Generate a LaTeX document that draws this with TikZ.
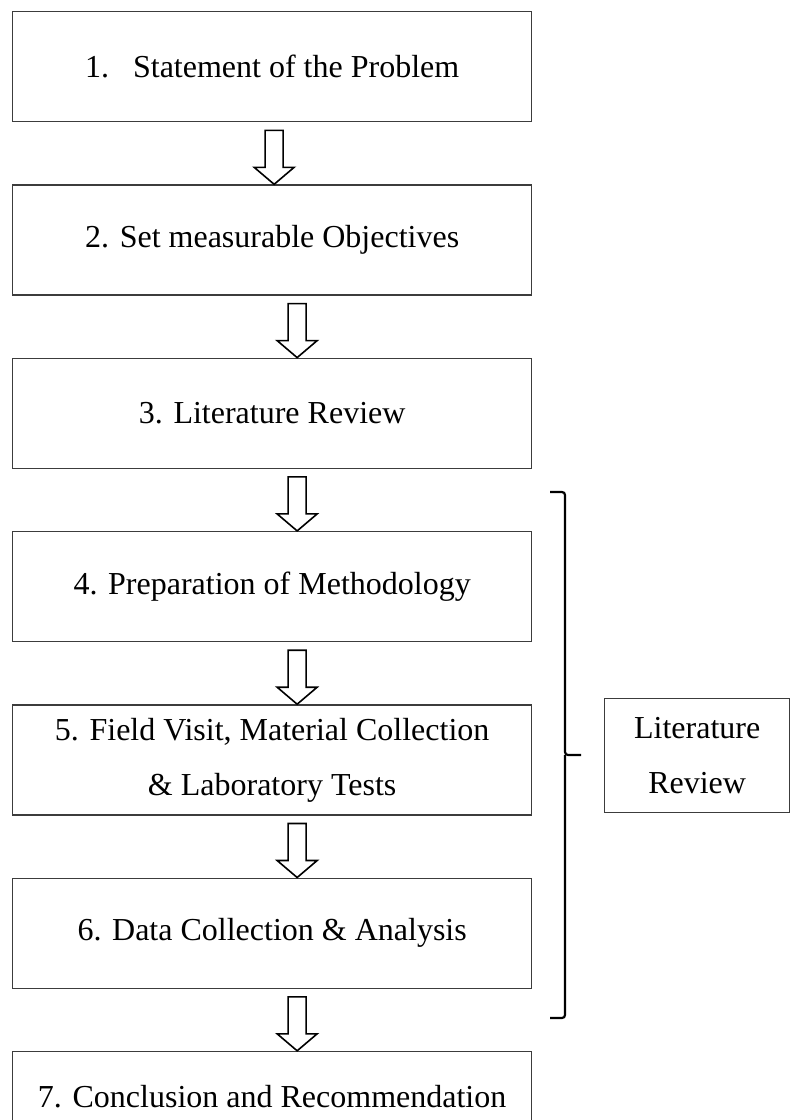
\documentclass[tikz,border=0pt]{standalone}
\usepackage{fontspec}
\setmainfont{Liberation Serif}
\usetikzlibrary{positioning,calc}
\definecolor{Edge}{HTML}{3C3C3C}

\begin{document}
\begin{tikzpicture}[
  x=1pt,y=1pt,
  node distance=62pt,
  every node/.style={font=\fontsize{32}{55}\selectfont,align=center},
  stage/.style={draw=Edge,line width=1.3pt,minimum width=519pt,minimum height=110pt,inner sep=0pt},
  note/.style={stage,minimum width=185pt,minimum height=114pt},
  hollow/.style={draw=black,line width=1.6pt,fill=white,line join=miter},
  bracket/.style={line width=2.2pt,rounded corners=3pt}
]
  \useasboundingbox (0,0) rectangle (791,-1120);
  \clip (0,0) rectangle (791,-1120);
  \node[stage,anchor=north west] (s1) at (12,-11) {1.\hspace{0.75em}Statement of the Problem};
  \node[stage,below=of s1] (s2) {2. Set measurable Objectives};
  \node[stage,below=of s2] (s3) {3. Literature Review};
  \node[stage,below=of s3] (s4) {4. Preparation of Methodology};
  \node[stage,below=of s4] (s5) {5. Field Visit, Material Collection\\\& Laboratory Tests};
  \node[stage,below=of s5] (s6) {6. Data Collection \& Analysis};
  \node[stage,below=of s6,minimum height=90pt] (s7) {7. Conclusion and Recommendation};
  \node[note,anchor=north west] (lit) at (604,-698) {Literature\\Review};
  % hollow block arrows between the stages
  \foreach \a/\b/\dx in {s1/s2/2,s2/s3/25,s3/s4/25,s4/s5/25,s5/s6/25,s6/s7/25}
    \draw[hollow] let \p1=(\a.south), \p2=(\b.north) in
      (\x1+\dx*1pt-9pt,\y1-8pt) -- (\x1+\dx*1pt+9pt,\y1-8pt) -- (\x1+\dx*1pt+9pt,\y2+17pt)
      -- (\x1+\dx*1pt+20pt,\y2+17pt) -- (\x1+\dx*1pt,\y2) -- (\x1+\dx*1pt-20pt,\y2+17pt)
      -- (\x1+\dx*1pt-9pt,\y2+17pt) -- cycle;
  % bracket round stages 4 to 6
  \coordinate (tick) at (581,-755);
  \draw[bracket] (550,-492) -| (565,-755) -- (tick);
  \draw[bracket] (565,-755) |- (550,-1018);
\end{tikzpicture}
\end{document}
